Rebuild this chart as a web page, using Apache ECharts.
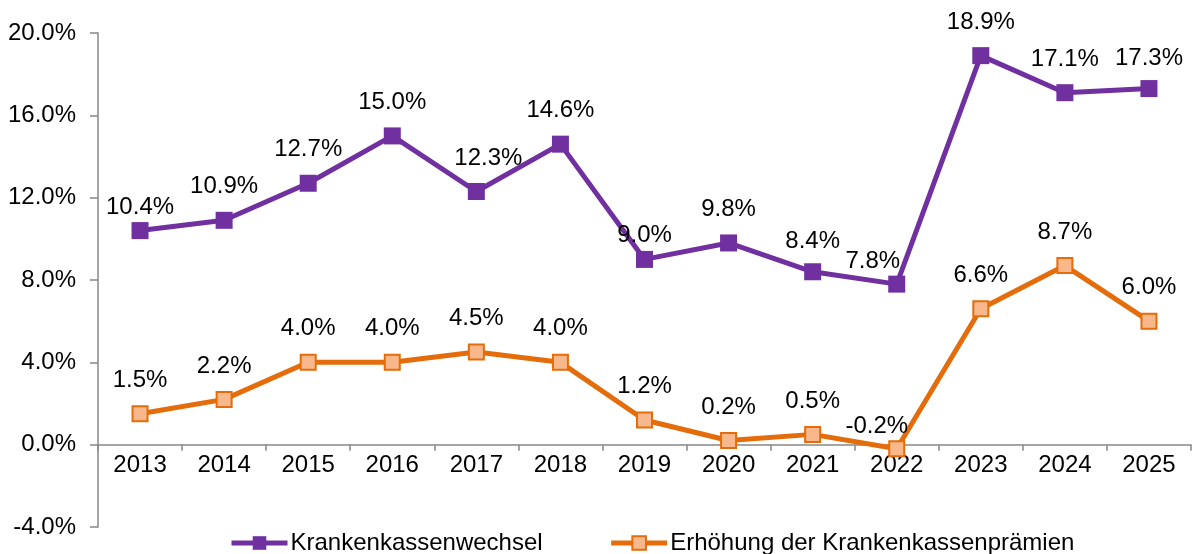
<!DOCTYPE html>
<html>
<head>
<meta charset="utf-8">
<script src="https://cdn.jsdelivr.net/npm/echarts@6/dist/echarts.min.js"></script>
<style>
  html, body { margin: 0; padding: 0; background: #fff; }
  #chart { width: 1196px; height: 554px; }
</style>
</head>
<body>
<div id="chart"></div>
<script>
var years = ["2013","2014","2015","2016","2017","2018","2019","2020","2021","2022","2023","2024","2025"];
var wechsel = [10.4, 10.9, 12.7, 15.0, 12.3, 14.6, 9.0, 9.8, 8.4, 7.8, 18.9, 17.1, 17.3];
var praemien = [1.5, 2.2, 4.0, 4.0, 4.5, 4.0, 1.2, 0.2, 0.5, -0.2, 6.6, 8.7, 6.0];
var seriesNames = ["Krankenkassenwechsel", "Erhöhung der Krankenkassenprämien"];

// label tweaks (by index), the rest sit above the point
var wechselShift = { 0: [0, 10], 4: [12, 0], 6: [0, 9], 8: [0, 3], 9: [-24, 11], 12: [0, 3] };
var praemienShift = { 9: [-20, 11] };

var purple = "#7030A0";
var orange = "#E46C0A";
var font = "'Liberation Sans', Arial, sans-serif";
var fs = 24;
var gridTop = 33, gridBottom = 27, plotH = 554 - gridTop - gridBottom;
var yMin = -4, yMax = 20;
// move the x axis up to the zero line
var zeroOffset = -plotH * (0 - yMin) / (yMax - yMin);

function toItems(vals, shift) {
  return vals.map(function (v, i) {
    var item = { value: v };
    if (shift[i]) item.label = { offset: shift[i] };
    return item;
  });
}

var chart = echarts.init(document.getElementById("chart"));
var option = {
  animation: false,
  textStyle: { fontFamily: font },
  grid: { left: 98, right: 5, top: gridTop, bottom: gridBottom, containLabel: false },
  legend: {
    left: 224,
    top: 526,
    itemWidth: 56,
    itemHeight: 17,
    itemGap: 66,
    textStyle: { fontSize: fs, color: "#000", fontFamily: font, padding: [0, 0, 0, -2] },
    data: [
      { name: seriesNames[0], lineStyle: { color: purple, width: 5 }, itemStyle: { color: purple } },
      { name: seriesNames[1], lineStyle: { color: orange, width: 5 }, itemStyle: { color: "#F8B88B", borderColor: orange, borderWidth: 2 } }
    ]
  },
  xAxis: {
    type: "category",
    data: years,
    boundaryGap: true,
    offset: zeroOffset,
    axisLine: { onZero: false, lineStyle: { color: "#888", width: 1.5 } },
    axisTick: { show: true, length: 6, lineStyle: { color: "#888", width: 1.5 } },
    axisLabel: { fontSize: fs, color: "#000", margin: 9, fontFamily: font }
  },
  yAxis: {
    type: "value",
    min: yMin,
    max: yMax,
    interval: 4,
    axisLine: { show: true, lineStyle: { color: "#888", width: 1.5 } },
    axisTick: { show: true, length: 8, lineStyle: { color: "#888", width: 1.5 } },
    splitLine: { show: false },
    axisLabel: {
      fontSize: fs, color: "#000", margin: 22, fontFamily: font,
      formatter: function (v) { return v.toFixed(1) + "%"; }
    }
  },
  series: [
    {
      name: seriesNames[0],
      type: "line",
      data: toItems(wechsel, wechselShift),
      symbol: "rect",
      symbolSize: 17,
      lineStyle: { color: purple, width: 5 },
      itemStyle: { color: purple, borderColor: purple, borderWidth: 0 },
      label: {
        show: true, position: "top", distance: 13,
        fontSize: fs, color: "#000", fontFamily: font,
        formatter: function (p) { return p.value.toFixed(1) + "%"; }
      }
    },
    {
      name: seriesNames[1],
      type: "line",
      data: toItems(praemien, praemienShift),
      symbol: "rect",
      symbolSize: 15,
      lineStyle: { color: orange, width: 5 },
      itemStyle: { color: "#F8B88B", borderColor: orange, borderWidth: 2 },
      label: {
        show: true, position: "top", distance: 13,
        fontSize: fs, color: "#000", fontFamily: font,
        formatter: function (p) { return p.value.toFixed(1) + "%"; }
      }
    }
  ]
};
chart.setOption(option);
</script>
</body>
</html>
